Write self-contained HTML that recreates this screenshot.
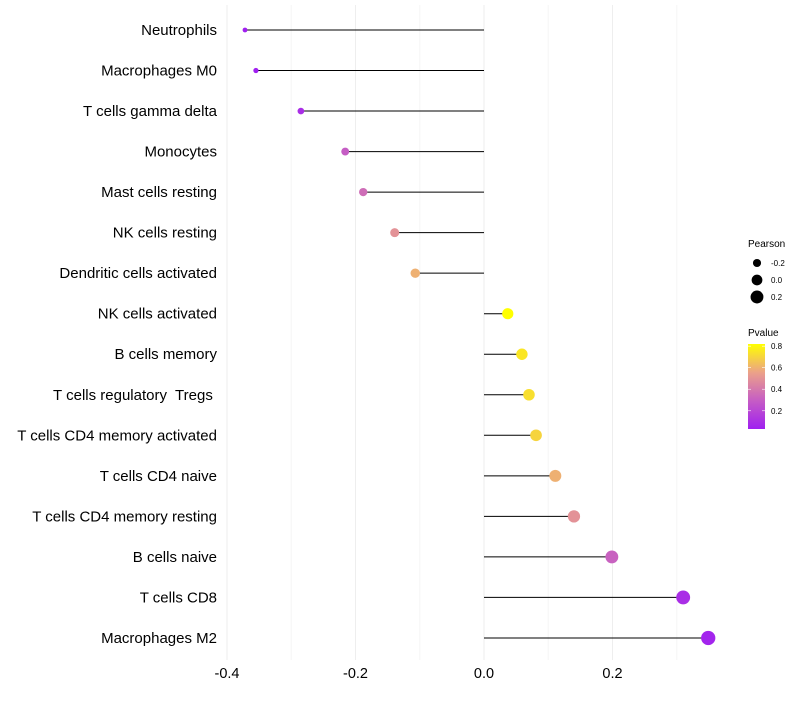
<!DOCTYPE html>
<html><head><meta charset="utf-8"><style>
body{margin:0;background:#fff;font-family:"Liberation Sans",sans-serif}
text{white-space:pre}
</style></head><body>
<svg id="c" width="800" height="700" xmlns="http://www.w3.org/2000/svg">
<defs><linearGradient id="pg" x1="0" y1="1" x2="0" y2="0">
<stop offset="0" stop-color="#A020F0"/><stop offset="0.33" stop-color="#C55CC5"/><stop offset="0.66" stop-color="#EBA08A"/><stop offset="1" stop-color="#FFFF00"/></linearGradient></defs>
</svg>
<script>
const categories=["Neutrophils","Macrophages M0","T cells gamma delta","Monocytes","Mast cells resting","NK cells resting","Dendritic cells activated","NK cells activated","B cells memory","T cells regulatory  Tregs ","T cells CD4 memory activated","T cells CD4 naive","T cells CD4 memory resting","B cells naive","T cells CD8","Macrophages M2"];
const pearson=[-0.372,-0.355,-0.285,-0.216,-0.188,-0.139,-0.107,0.037,0.059,0.070,0.081,0.111,0.140,0.199,0.310,0.349];
const pvalue=[0.03,0.04,0.1,0.3,0.36,0.5,0.6,0.85,0.75,0.73,0.7,0.6,0.5,0.32,0.1,0.06];
const xTicks=[-0.4,-0.2,0.0,0.2];
const xMinor=[-0.3,-0.1,0.1,0.3];
const pLegend=[-0.2,0.0,0.2];
const cLegend=[0.2,0.4,0.6,0.8];
const svg=document.getElementById('c');const NS='http://www.w3.org/2000/svg';
const xs=v=>484+v*642.5;
const ys=i=>30+i*40.53;
const rs=v=>Math.sqrt(Math.max(2,29+62.5*v));
const stops=[[0,[160,32,240]],[0.33,[197,92,197]],[0.66,[235,160,138]],[1,[255,255,0]]];
function col(p){let t=Math.min(1,Math.max(0,(p-0.04)/0.78));for(let k=1;k<stops.length;k++){if(t<=stops[k][0]){const a=stops[k-1],b=stops[k];const f=(t-a[0])/(b[0]-a[0]);return 'rgb('+a[1].map((c,j)=>Math.round(c+(b[1][j]-c)*f)).join(',')+')';}}return 'rgb(255,255,0)';}
function el(t,a,txt){const e=document.createElementNS(NS,t);for(const k in a)e.setAttribute(k,a[k]);if(txt!==undefined)e.textContent=txt;svg.appendChild(e);return e;}
xMinor.forEach(v=>{const e=el('line',{x1:xs(v),x2:xs(v),y1:5,y2:660,stroke:'#f5f5f5','stroke-width':1});

});
xTicks.forEach(v=>{const e=el('line',{x1:xs(v),x2:xs(v),y1:5,y2:660,stroke:'#eeeeee','stroke-width':1});


const t=el('text',{x:xs(v),y:678,'text-anchor':'middle','font-size':14.5,fill:'#000'},v.toFixed(1));

});
categories.forEach((c,i)=>{const y=ys(i);
const t=el('text',{x:217,y:y+5,'text-anchor':'end','font-size':15,fill:'#000'},c);


const l=el('line',{x1:xs(0),x2:xs(pearson[i]),y1:y,y2:y,stroke:'#000','stroke-width':1});


const d=el('circle',{cx:xs(pearson[i]),cy:y,r:rs(pearson[i]),fill:col(pvalue[i])});

});
let t=el('text',{x:748,y:247,'font-size':10},'Pearson');


pLegend.forEach((v,i)=>{const y=263+i*17;const d=el('circle',{cx:757,cy:y,r:rs(v),fill:'#000'});


const tt=el('text',{x:771,y:y+3,'font-size':8},v.toFixed(1));

});
t=el('text',{x:748,y:336,'font-size':10},'Pvalue');


const bar=el('rect',{x:748,y:344,width:17,height:85,fill:'url(#pg)'});


const cy=p=>428-(p-0.04)/0.78*84;
cLegend.forEach(v=>{const y=cy(v);el('line',{x1:748,x2:751,y1:y,y2:y,stroke:'#fff','stroke-width':0.6});el('line',{x1:762,x2:765,y1:y,y2:y,stroke:'#fff','stroke-width':0.6});
const tt=el('text',{x:771,y:y+3,'font-size':8},v.toFixed(1));

});
</script>
</body></html>
